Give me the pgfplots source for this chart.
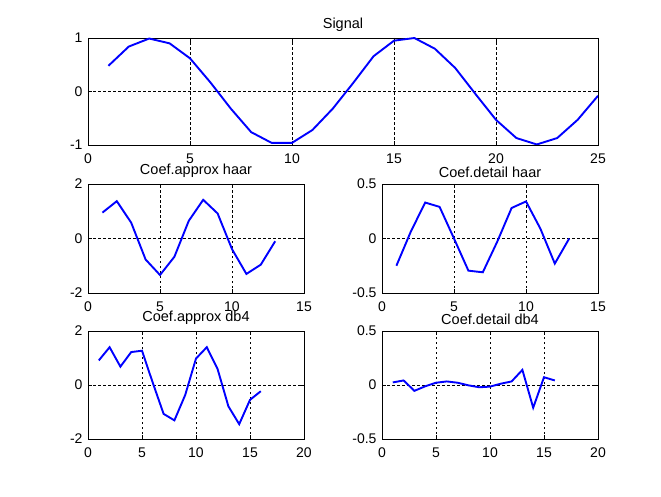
\documentclass[border=0pt]{standalone}
\usepackage{pgfplots}
\pgfplotsset{compat=1.18}
\usepackage{fontspec}
\setmainfont{Liberation Sans}
\definecolor{octblue}{RGB}{0,0,255}
\pgfplotsset{
  oct/.style={
    scale only axis,
    anchor=south west,
    axis line style={black, line width=0.8pt},
    grid=major,
    major grid style={black, line width=0.6pt, dash pattern=on 2.5pt off 2.5pt},
    tick style={black, line width=0.6pt},
    tick align=inside,
    major tick length=4pt,
    ticklabel style={font=\fontsize{14}{16}\selectfont},
    /pgf/number format/assume math mode=true,
    xticklabel style={yshift=-5pt},
    yticklabel style={xshift=-2pt},
    title style={font=\fontsize{14.5}{16}\selectfont, yshift=-3pt},
    cycle list={octblue},
    every axis plot/.append style={line width=1.9pt},
    no markers,
    clip=true,
  }
}
\begin{document}
\begin{tikzpicture}[x=1pt,y=1pt]
\useasboundingbox (0,0) rectangle (661,496);
\begin{axis}[oct, at={(88pt,351pt)}, width=510pt, height=107pt,
  xmin=0, xmax=25, ymin=-1, ymax=1, xtick={0,5,...,25}, ytick={-1,0,1},
  title={Signal}]
\addplot coordinates {(1,0.48) (2,0.84) (3,0.99) (4,0.90) (5,0.62) (6,0.17) (7,-0.32) (8,-0.76) (9,-0.96) (10,-0.96) (11,-0.72) (12,-0.32) (13,0.16) (14,0.66) (15,0.95) (16,1.0) (17,0.80) (18,0.44) (19,-0.05) (20,-0.53) (21,-0.87) (22,-0.99) (23,-0.87) (24,-0.53) (25,-0.08)};
\end{axis}
\begin{axis}[oct, at={(88pt,203pt)}, width=216pt, height=109pt,
  xmin=0, xmax=15, ymin=-2, ymax=2, xtick={0,5,10,15}, ytick={-2,0,2},
  title={Coef.approx haar}]
\addplot coordinates {(1,0.95) (2,1.37) (3,0.58) (4,-0.77) (5,-1.34) (6,-0.67) (7,0.65) (8,1.42) (9,0.92) (10,-0.39) (11,-1.30) (12,-0.96) (13,-0.10)};
\end{axis}
\begin{axis}[oct, at={(382pt,203pt)}, width=216pt, height=109pt,
  xmin=0, xmax=15, ymin=-0.5, ymax=0.5, xtick={0,5,10,15}, ytick={-0.5,0,0.5},
  yticklabels={-0.5,0,0.5},
  title={Coef.detail haar}]
\addplot coordinates {(1,-0.25) (2,0.063) (3,0.33) (4,0.29) (5,0.0) (6,-0.295) (7,-0.31) (8,-0.03) (9,0.28) (10,0.34) (11,0.09) (12,-0.23) (13,0.0)};
\end{axis}
\begin{axis}[oct, at={(88pt,57pt)}, width=216pt, height=108pt,
  xmin=0, xmax=20, ymin=-2, ymax=2, xtick={0,5,10,15,20}, ytick={-2,0,2},
  title={Coef.approx db4}]
\addplot coordinates {(1,0.91) (2,1.40) (3,0.68) (4,1.22) (5,1.27) (6,0.08) (7,-1.07) (8,-1.31) (9,-0.37) (10,0.98) (11,1.40) (12,0.59) (13,-0.79) (14,-1.45) (15,-0.55) (16,-0.23)};
\end{axis}
\begin{axis}[oct, at={(382pt,57pt)}, width=216pt, height=108pt,
  xmin=0, xmax=20, ymin=-0.5, ymax=0.5, xtick={0,5,10,15,20}, ytick={-0.5,0,0.5},
  yticklabels={-0.5,0,0.5},
  title={Coef.detail db4}]
\addplot coordinates {(1,0.024) (2,0.042) (3,-0.054) (4,-0.012) (5,0.021) (6,0.033) (7,0.021) (8,-0.003) (9,-0.021) (10,-0.015) (11,0.012) (12,0.033) (13,0.14) (14,-0.21) (15,0.072) (16,0.042)};
\end{axis}
\end{tikzpicture}
\end{document}
